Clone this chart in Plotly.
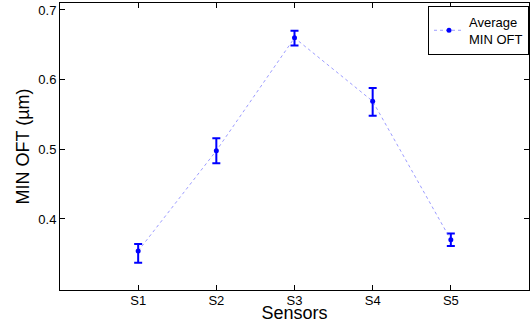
import plotly.graph_objects as go

sensors = ["S1", "S2", "S3", "S4", "S5"]
x_pos = [1, 2, 3, 4, 5]
avg_min_oft = [0.354, 0.498, 0.660, 0.569, 0.370]
err_plus = [0.010, 0.018, 0.010, 0.019, 0.009]
err_minus = [0.017, 0.018, 0.011, 0.021, 0.009]
y_ticks = [0.4, 0.5, 0.6, 0.7]

font_family = "Liberation Sans, Arial, Helvetica, sans-serif"

fig = go.Figure()
fig.add_trace(go.Scatter(
    x=x_pos, y=avg_min_oft,
    mode="lines+markers",
    name="Average<br>MIN OFT",
    line=dict(color="rgba(90,90,255,0.6)", width=1, dash="dot"),
    marker=dict(color="#0000ff", size=5),
    error_y=dict(type="data", symmetric=False, array=err_plus, arrayminus=err_minus,
                 color="#0000ff", thickness=2, width=4),
))

fig.update_layout(
    width=531, height=323,
    margin=dict(l=60, r=2, t=3, b=33, autoexpand=False),
    paper_bgcolor="white", plot_bgcolor="white",
    font=dict(family=font_family, size=13, color="black"),
    showlegend=True,
    legend=dict(x=1, y=0.99, xanchor="right", yanchor="top",
                bordercolor="black", borderwidth=1, bgcolor="white",
                font=dict(size=13), itemwidth=30,
                tracegroupgap=0),
    xaxis=dict(range=[0, 6], tickvals=x_pos, ticktext=sensors, automargin=False,
               showgrid=False, zeroline=False, showline=True, linecolor="black",
               linewidth=1, mirror="ticks", ticks="inside", ticklen=5,
               tickcolor="black", ticklabelstandoff=-2,
               title=dict(text="Sensors", font=dict(size=18), standoff=0)),
    yaxis=dict(range=[0.298, 0.71], tickvals=y_ticks, automargin=False,
               ticktext=[f"{v:.1f}" for v in y_ticks],
               showgrid=False, zeroline=False, showline=True, linecolor="black",
               linewidth=1, mirror="ticks", ticks="inside", ticklen=5,
               tickcolor="black",
               title=dict(text="MIN OFT (µm)", font=dict(size=18), standoff=4)),
)

fig.write_html("out.html", config={"displayModeBar": False},
               post_script="document.body.style.margin='0';document.body.style.overflow='hidden';")
